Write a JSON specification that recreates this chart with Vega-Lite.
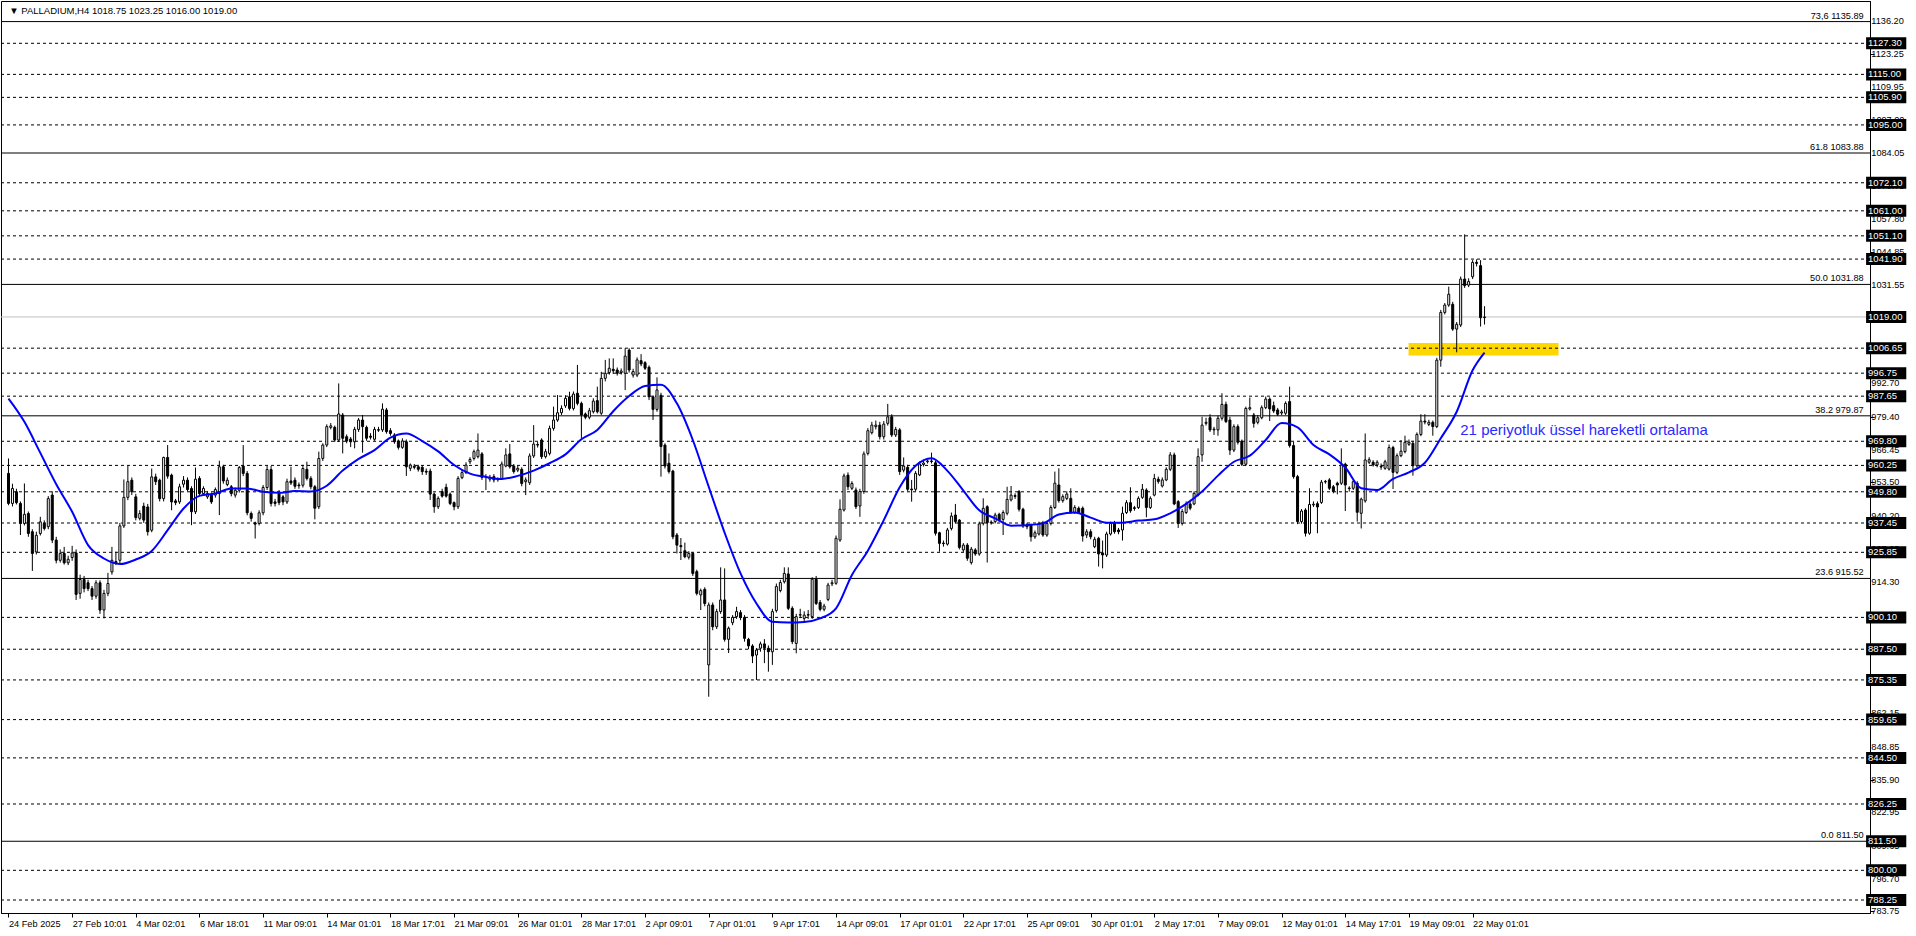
{
  "$schema": "https://vega.github.io/schema/vega-lite/v6.json",
  "width": 1869,
  "height": 912,
  "autosize": {"type": "none"},
  "padding": {"left": 1, "top": 1, "right": 46, "bottom": 23},
  "background": "#ffffff",
  "config": {
    "view": {"stroke": "#000000", "strokeWidth": 1},
    "font": "Liberation Sans",
    "axis": {"labelFont": "Liberation Sans", "labelFontSize": 9.2, "labelColor": "#000000", "domainColor": "#000000", "tickColor": "#000000", "tickSize": 4, "grid": false, "labelOverlap": false, "labelFlush": false}
  },
  "datasets": {
    "candles": [
      {"i":0,"o":957.1,"h":963.0,"l":944.5,"c":945.2},{"i":1,"o":945.2,"h":953,"l":944,"c":951.1},{"i":2,"o":949.8,"h":951,"l":944.8,"c":945.5},{"i":3,"o":945.2,"h":946,"l":932.7,"c":937.3},{"i":4,"o":937.3,"h":953.1,"l":936.5,"c":940.9},{"i":5,"o":941.2,"h":942,"l":932,"c":933.3},{"i":6,"o":934,"h":935,"l":918.5,"c":925.4},{"i":7,"o":926,"h":934,"l":925,"c":932.6},{"i":8,"o":933.3,"h":939.9,"l":932.5,"c":937.9},{"i":9,"o":937.3,"h":938.5,"l":934.5,"c":935.3},
      {"i":10,"o":936,"h":948.1,"l":935,"c":947.1},{"i":11,"o":948.5,"h":950,"l":929.5,"c":930.7},{"i":12,"o":930.7,"h":932,"l":921.5,"c":922.7},{"i":13,"o":922.7,"h":927,"l":921.8,"c":925.4},{"i":14,"o":925.4,"h":928,"l":921,"c":921.7},{"i":15,"o":921.7,"h":924.5,"l":920.8,"c":923.1},{"i":16,"o":923.8,"h":928.4,"l":922.5,"c":925.6},{"i":17,"o":925.6,"h":927,"l":907,"c":909.2},{"i":18,"o":909.6,"h":917,"l":907.5,"c":915.1},{"i":19,"o":915.1,"h":916.5,"l":910,"c":911.5},
      {"i":20,"o":913.8,"h":915,"l":910.5,"c":911.5},{"i":21,"o":911.5,"h":912.5,"l":907,"c":908.5},{"i":22,"o":908.5,"h":914.8,"l":907.5,"c":913.8},{"i":23,"o":913.8,"h":914.8,"l":901.5,"c":903},{"i":24,"o":903,"h":911,"l":899.7,"c":909.6},{"i":25,"o":909.6,"h":917.7,"l":908.5,"c":913.5},{"i":26,"o":918.1,"h":928,"l":917,"c":922.7},{"i":27,"o":922.2,"h":926.1,"l":920.8,"c":921.6},{"i":28,"o":922.7,"h":937.5,"l":921.5,"c":936.3},{"i":29,"o":936.3,"h":954.7,"l":935.5,"c":947.6},
      {"i":30,"o":947.6,"h":960,"l":946.5,"c":953.8},{"i":31,"o":954.4,"h":955.5,"l":948.5,"c":949.8},{"i":32,"o":947.8,"h":949,"l":938.5,"c":939.6},{"i":33,"o":939.3,"h":942.5,"l":938.5,"c":941.2},{"i":34,"o":944.1,"h":945.5,"l":937.5,"c":938.6},{"i":35,"o":943.8,"h":945,"l":932.5,"c":934},{"i":36,"o":934.6,"h":959,"l":933.8,"c":955.7},{"i":37,"o":955.7,"h":957,"l":952.5,"c":953.8},{"i":38,"o":954.4,"h":955,"l":946,"c":947.1},{"i":39,"o":947.1,"h":963.7,"l":946,"c":963.4},
      {"i":40,"o":963.4,"h":968.3,"l":955,"c":956},{"i":41,"o":956.4,"h":957,"l":942.5,"c":945.8},{"i":42,"o":946.2,"h":947,"l":944.5,"c":945.5},{"i":43,"o":945.8,"h":953,"l":945,"c":951.8},{"i":44,"o":952.8,"h":956,"l":951.5,"c":954.4},{"i":45,"o":954.4,"h":955.5,"l":950,"c":950.7},{"i":46,"o":951.1,"h":952,"l":936.6,"c":941.9},{"i":47,"o":941.9,"h":959.4,"l":941,"c":954.8},{"i":48,"o":955.1,"h":956,"l":948,"c":949.1},{"i":49,"o":949.1,"h":952,"l":948.5,"c":951.1},
      {"i":50,"o":947.8,"h":950,"l":947,"c":949.1},{"i":51,"o":948.5,"h":949.5,"l":945,"c":945.8},{"i":52,"o":948.5,"h":951.5,"l":947.5,"c":950.7},{"i":53,"o":949.1,"h":962.1,"l":940.6,"c":959.7},{"i":54,"o":959.7,"h":960.5,"l":953,"c":954.1},{"i":55,"o":952.7,"h":955.5,"l":952,"c":954.4},{"i":56,"o":951.8,"h":952.5,"l":948,"c":949.1},{"i":57,"o":948.5,"h":951.5,"l":947.5,"c":950.4},{"i":58,"o":950.4,"h":960,"l":949.5,"c":959.4},{"i":59,"o":960,"h":968.3,"l":956,"c":957.1},
      {"i":60,"o":957.1,"h":958,"l":940.5,"c":941.5},{"i":61,"o":941.2,"h":942,"l":938,"c":939.3},{"i":62,"o":937.5,"h":938,"l":931.3,"c":937},{"i":63,"o":937.3,"h":942.5,"l":936.5,"c":941.5},{"i":64,"o":941.5,"h":952.5,"l":940.5,"c":951.5},{"i":65,"o":951.5,"h":960,"l":950.5,"c":958.6},{"i":66,"o":958.6,"h":960,"l":944,"c":945.2},{"i":67,"o":945.8,"h":947,"l":944,"c":945.2},{"i":68,"o":949.4,"h":950.5,"l":944.5,"c":945.5},{"i":69,"o":947.8,"h":948.5,"l":944.5,"c":945.8},
      {"i":70,"o":945.8,"h":955,"l":945,"c":953.8},{"i":71,"o":954.1,"h":959.7,"l":952.5,"c":953.3},{"i":72,"o":954.4,"h":955.5,"l":951,"c":952},{"i":73,"o":952.5,"h":953.5,"l":951,"c":952.2},{"i":74,"o":952.4,"h":960.5,"l":951.5,"c":959},{"i":75,"o":958.7,"h":961.7,"l":954.3,"c":955.1},{"i":76,"o":955.1,"h":956,"l":950.8,"c":951.8},{"i":77,"o":951.8,"h":952.5,"l":938.9,"c":943.3},{"i":78,"o":943.9,"h":965.7,"l":943,"c":963},{"i":79,"o":963,"h":969,"l":962,"c":968.3},
      {"i":80,"o":968.3,"h":976.5,"l":967.5,"c":975.6},{"i":81,"o":975.3,"h":977,"l":974.5,"c":975.9},{"i":82,"o":975.3,"h":976,"l":969.5,"c":970.3},{"i":83,"o":970.3,"h":992.7,"l":969.5,"c":980.6},{"i":84,"o":980.2,"h":981,"l":965,"c":971},{"i":85,"o":971.6,"h":972.5,"l":969,"c":969.9},{"i":86,"o":970.7,"h":971.5,"l":967.5,"c":969.6},{"i":87,"o":969.6,"h":975.5,"l":967,"c":974.5},{"i":88,"o":974.5,"h":979,"l":973.5,"c":978.2},{"i":89,"o":978.2,"h":980.2,"l":965.3,"c":975.6},
      {"i":90,"o":975.3,"h":976,"l":970,"c":971},{"i":91,"o":971.8,"h":973,"l":970.5,"c":971.4},{"i":92,"o":970.6,"h":975.5,"l":970,"c":974.5},{"i":93,"o":974.4,"h":975.5,"l":973.5,"c":974.2},{"i":94,"o":974.3,"h":984.8,"l":973.5,"c":982.5},{"i":95,"o":982.2,"h":983,"l":972.8,"c":973.6},{"i":96,"o":974,"h":975,"l":972,"c":972.9},{"i":97,"o":972.3,"h":973,"l":968.8,"c":969.6},{"i":98,"o":969.9,"h":970.5,"l":966.5,"c":967.4},{"i":99,"o":967.4,"h":971,"l":966.8,"c":969.9},
      {"i":100,"o":969.6,"h":970.5,"l":956.1,"c":959.7},{"i":101,"o":959.1,"h":961,"l":958,"c":960.4},{"i":102,"o":959.9,"h":960.8,"l":958.7,"c":959.5},{"i":103,"o":959.7,"h":960.5,"l":957.8,"c":958.7},{"i":104,"o":959.5,"h":960,"l":956.5,"c":957.8},{"i":105,"o":957.9,"h":959,"l":956.5,"c":957.6},{"i":106,"o":958,"h":959,"l":946.6,"c":948.9},{"i":107,"o":948.9,"h":949.5,"l":941.5,"c":943.9},{"i":108,"o":943.9,"h":948,"l":943,"c":947.2},{"i":109,"o":949.9,"h":951,"l":947.5,"c":948.1},
      {"i":110,"o":951.6,"h":953,"l":947.5,"c":948.1},{"i":111,"o":948.9,"h":949.5,"l":944.5,"c":945.2},{"i":112,"o":945.5,"h":946,"l":942.5,"c":943.9},{"i":113,"o":943.9,"h":956,"l":943,"c":955.1},{"i":114,"o":955.4,"h":958.5,"l":954.8,"c":957.4},{"i":115,"o":957.4,"h":961.5,"l":956.8,"c":960.4},{"i":116,"o":961.7,"h":963.5,"l":960.8,"c":962.6},{"i":117,"o":963,"h":966.5,"l":962.2,"c":965.7},{"i":118,"o":963.7,"h":972.9,"l":963,"c":966.3},{"i":119,"o":964.8,"h":965.5,"l":954.5,"c":955.5},
      {"i":120,"o":955.8,"h":956.8,"l":950.5,"c":955.6},{"i":121,"o":954.8,"h":956.5,"l":953.8,"c":955.5},{"i":122,"o":955.8,"h":956.8,"l":953.5,"c":954.5},{"i":123,"o":954.6,"h":955.5,"l":953.8,"c":954.8},{"i":124,"o":955.1,"h":961.8,"l":954.5,"c":960.8},{"i":125,"o":960,"h":967,"l":959.5,"c":964.4},{"i":126,"o":964.8,"h":968.7,"l":959,"c":959.7},{"i":127,"o":960,"h":960.8,"l":957,"c":957.8},{"i":128,"o":958.4,"h":960,"l":957.6,"c":959.1},{"i":129,"o":958.7,"h":959.5,"l":952,"c":953.1},
      {"i":130,"o":953.8,"h":955.5,"l":948.5,"c":954.5},{"i":131,"o":953.4,"h":965,"l":952.5,"c":964},{"i":132,"o":964,"h":976.2,"l":963.2,"c":968.7},{"i":133,"o":968.5,"h":969.5,"l":967.3,"c":968.3},{"i":134,"o":970.3,"h":971,"l":962.8,"c":963.7},{"i":135,"o":963.7,"h":966.8,"l":963,"c":965.7},{"i":136,"o":965,"h":976,"l":964.2,"c":974.9},{"i":137,"o":974.9,"h":983.5,"l":974,"c":978.2},{"i":138,"o":978.2,"h":988.1,"l":977.5,"c":981.1},{"i":139,"o":981.1,"h":984,"l":980.2,"c":982.8},
      {"i":140,"o":983.8,"h":988,"l":983,"c":986.8},{"i":141,"o":987.4,"h":989.4,"l":982,"c":982.8},{"i":142,"o":982.8,"h":989.5,"l":982,"c":988.5},{"i":143,"o":988.8,"h":1000,"l":984,"c":984.8},{"i":144,"o":984.8,"h":985.5,"l":971,"c":980.2},{"i":145,"o":980.6,"h":981.2,"l":978.5,"c":979.3},{"i":146,"o":979.3,"h":983,"l":978.5,"c":981.9},{"i":147,"o":981.5,"h":986.8,"l":980.8,"c":985.7},{"i":148,"o":985.9,"h":991.4,"l":980.8,"c":981.5},{"i":149,"o":980.9,"h":997.3,"l":980.2,"c":994.7},
      {"i":150,"o":994.7,"h":1002,"l":993.5,"c":996.7},{"i":151,"o":997,"h":1002.6,"l":996.2,"c":998.7},{"i":152,"o":998.3,"h":1002.6,"l":996.5,"c":997.7},{"i":153,"o":998,"h":999,"l":995.8,"c":996.7},{"i":154,"o":997,"h":998.6,"l":996.2,"c":997.6},{"i":155,"o":996.7,"h":1006.6,"l":990.1,"c":1003.5},{"i":156,"o":1005.9,"h":1006.6,"l":997,"c":998},{"i":157,"o":996,"h":998.5,"l":995,"c":997.4},{"i":158,"o":996,"h":1003,"l":995.2,"c":1002},{"i":159,"o":1001.7,"h":1004.3,"l":999.5,"c":1000.4},
      {"i":160,"o":1000.9,"h":1001.5,"l":998,"c":998.7},{"i":161,"o":999.1,"h":999.8,"l":986.1,"c":987.4},{"i":162,"o":987.4,"h":988,"l":978.2,"c":982.4},{"i":163,"o":982.4,"h":995.1,"l":981.5,"c":990.1},{"i":164,"o":988,"h":989,"l":955.8,"c":967.7},{"i":165,"o":968.3,"h":969,"l":959,"c":960},{"i":166,"o":961.1,"h":965,"l":957,"c":957.8},{"i":167,"o":958,"h":958.5,"l":931,"c":932},{"i":168,"o":932.7,"h":933.5,"l":925.4,"c":928.7},{"i":169,"o":928.5,"h":931.5,"l":922.8,"c":928.1},
      {"i":170,"o":926.5,"h":929.7,"l":923.5,"c":924.1},{"i":171,"o":923.9,"h":926.3,"l":923,"c":925.4},{"i":172,"o":925.4,"h":926,"l":916.5,"c":917.5},{"i":173,"o":918.2,"h":919,"l":908.8,"c":909.6},{"i":174,"o":909,"h":911.5,"l":903,"c":910.7},{"i":175,"o":911.2,"h":912,"l":904.5,"c":905.6},{"i":176,"o":881.3,"h":906,"l":868.7,"c":905},{"i":177,"o":905,"h":906,"l":895,"c":896.4},{"i":178,"o":896.4,"h":903.5,"l":895.5,"c":902.4},{"i":179,"o":902.4,"h":919.9,"l":901.5,"c":907},
      {"i":180,"o":907,"h":919.5,"l":890.5,"c":891.4},{"i":181,"o":891.4,"h":896.5,"l":886,"c":895.8},{"i":182,"o":898,"h":901,"l":897,"c":900.1},{"i":183,"o":900.4,"h":904.3,"l":899.5,"c":902.4},{"i":184,"o":902,"h":903,"l":899,"c":900.1},{"i":185,"o":900.1,"h":901,"l":890.5,"c":891.8},{"i":186,"o":891.4,"h":892,"l":887.5,"c":888.8},{"i":187,"o":888.8,"h":889.5,"l":882,"c":884.8},{"i":188,"o":885.2,"h":888,"l":875.3,"c":887.2},{"i":189,"o":887.9,"h":890.5,"l":886.5,"c":889.6},
      {"i":190,"o":889.6,"h":891.5,"l":882,"c":887.9},{"i":191,"o":887.9,"h":889,"l":878.6,"c":886.5},{"i":192,"o":886.5,"h":903.5,"l":881.3,"c":902.4},{"i":193,"o":902.8,"h":913.5,"l":902,"c":912.3},{"i":194,"o":910.7,"h":915,"l":910,"c":913.9},{"i":195,"o":914.2,"h":919.9,"l":913.5,"c":917.5},{"i":196,"o":917.3,"h":919.9,"l":903,"c":903.7},{"i":197,"o":903.7,"h":904.5,"l":889.5,"c":890.5},{"i":198,"o":889.8,"h":901.5,"l":885.9,"c":900.4},{"i":199,"o":901,"h":903.5,"l":899.8,"c":901.2},
      {"i":200,"o":899.7,"h":902.5,"l":898.5,"c":901},{"i":201,"o":901.2,"h":903,"l":899.5,"c":901},{"i":202,"o":900.4,"h":916,"l":899.5,"c":915.2},{"i":203,"o":915.2,"h":916.5,"l":905,"c":905.6},{"i":204,"o":906,"h":907,"l":902.5,"c":903.3},{"i":205,"o":903.3,"h":905.5,"l":902.5,"c":904.6},{"i":206,"o":907.2,"h":913.8,"l":906.5,"c":912.9},{"i":207,"o":913.4,"h":915,"l":912.5,"c":913.8},{"i":208,"o":913.6,"h":932.5,"l":913,"c":931.4},{"i":209,"o":930.7,"h":946.8,"l":930,"c":942.9},
      {"i":210,"o":942.6,"h":957,"l":942,"c":956.1},{"i":211,"o":956.4,"h":957.5,"l":950.5,"c":951.8},{"i":212,"o":951.2,"h":954,"l":950.5,"c":953.1},{"i":213,"o":950.5,"h":951.5,"l":943,"c":943.9},{"i":214,"o":944.2,"h":951,"l":939.9,"c":949.9},{"i":215,"o":949.9,"h":965.8,"l":949,"c":964.8},{"i":216,"o":965,"h":975,"l":964.2,"c":974},{"i":217,"o":973.2,"h":977.5,"l":972.5,"c":976.2},{"i":218,"o":975.6,"h":978,"l":974.5,"c":976.2},{"i":219,"o":976.2,"h":977.5,"l":970.5,"c":971.6},
      {"i":220,"o":971.6,"h":977.8,"l":970.5,"c":976.6},{"i":221,"o":976.9,"h":984.6,"l":976,"c":979.5},{"i":222,"o":979.5,"h":980.5,"l":971.5,"c":972.3},{"i":223,"o":972.3,"h":975.5,"l":971.5,"c":974.5},{"i":224,"o":974.3,"h":975,"l":956.5,"c":957.8},{"i":225,"o":958.4,"h":963.4,"l":957.5,"c":960},{"i":226,"o":959.5,"h":960.5,"l":950,"c":950.8},{"i":227,"o":950.9,"h":954.5,"l":945.9,"c":950.6},{"i":228,"o":950.8,"h":958,"l":950,"c":957.1},{"i":229,"o":956.5,"h":961.8,"l":956,"c":960.8},
      {"i":230,"o":960.6,"h":962.2,"l":959.8,"c":961.2},{"i":231,"o":961.7,"h":962.4,"l":961,"c":962},{"i":232,"o":962,"h":965.3,"l":961,"c":961.8},{"i":233,"o":961.3,"h":962,"l":932.5,"c":933.4},{"i":234,"o":933.6,"h":934,"l":926.1,"c":929.4},{"i":235,"o":929.5,"h":930.5,"l":928.1,"c":929.3},{"i":236,"o":929.1,"h":935.5,"l":928.5,"c":934.7},{"i":237,"o":935.3,"h":941.6,"l":934.5,"c":940.2},{"i":238,"o":940.6,"h":945,"l":937.3,"c":938},{"i":239,"o":938.6,"h":939,"l":927,"c":927.8},
      {"i":240,"o":926.8,"h":929.5,"l":926,"c":928.7},{"i":241,"o":928.7,"h":929.5,"l":922.5,"c":923.5},{"i":242,"o":921.8,"h":928,"l":921,"c":927.1},{"i":243,"o":926.8,"h":927.5,"l":924.5,"c":925.2},{"i":244,"o":925.2,"h":938,"l":924.5,"c":937.1},{"i":245,"o":937.3,"h":947.2,"l":936.5,"c":943.3},{"i":246,"o":943.9,"h":944.5,"l":921.8,"c":937.6},{"i":247,"o":937.8,"h":938.5,"l":936.8,"c":937.5},{"i":248,"o":938,"h":941.5,"l":937.3,"c":940.6},{"i":249,"o":940.9,"h":941.5,"l":938,"c":938.6},
      {"i":250,"o":938.9,"h":942.5,"l":932.7,"c":941.6},{"i":251,"o":941.3,"h":951.8,"l":940.5,"c":946.8},{"i":252,"o":946.6,"h":952.1,"l":946,"c":948.5},{"i":253,"o":948.3,"h":949.2,"l":947,"c":948},{"i":254,"o":949.9,"h":950.5,"l":942,"c":942.9},{"i":255,"o":942.9,"h":943.5,"l":935.5,"c":936.3},{"i":256,"o":936.7,"h":937.5,"l":935,"c":936},{"i":257,"o":936.7,"h":937.2,"l":930.1,"c":932},{"i":258,"o":932,"h":934.5,"l":931.2,"c":933.6},{"i":259,"o":933.1,"h":938,"l":932.5,"c":937.3},
      {"i":260,"o":937.6,"h":938.3,"l":932,"c":932.7},{"i":261,"o":932.7,"h":938,"l":932,"c":937.3},{"i":262,"o":937.3,"h":944.5,"l":936.5,"c":943.6},{"i":263,"o":943.6,"h":957.8,"l":943,"c":953.2},{"i":264,"o":952.5,"h":959.1,"l":945.5,"c":946.3},{"i":265,"o":946.3,"h":948.8,"l":945.5,"c":947.9},{"i":266,"o":947.2,"h":950,"l":946.5,"c":948.9},{"i":267,"o":947.2,"h":951.2,"l":941,"c":941.6},{"i":268,"o":941.6,"h":944.5,"l":941,"c":943.6},{"i":269,"o":943.3,"h":944,"l":941,"c":941.6},
      {"i":270,"o":943.3,"h":944,"l":930.1,"c":932.3},{"i":271,"o":932.7,"h":935,"l":931.5,"c":934},{"i":272,"o":934,"h":935,"l":931,"c":932},{"i":273,"o":928.1,"h":932,"l":927.5,"c":931},{"i":274,"o":931.4,"h":932,"l":920.2,"c":925.2},{"i":275,"o":925.6,"h":930.5,"l":919.5,"c":924.8},{"i":276,"o":924.8,"h":934,"l":924,"c":933.1},{"i":277,"o":933.1,"h":938,"l":932.5,"c":937.3},{"i":278,"o":937.6,"h":938.3,"l":933.2,"c":934},{"i":279,"o":934.7,"h":935.5,"l":933,"c":934},
      {"i":280,"o":934.7,"h":943.9,"l":930.5,"c":941.3},{"i":281,"o":941.6,"h":946.5,"l":941,"c":945.5},{"i":282,"o":945.5,"h":951.6,"l":941.5,"c":942.3},{"i":283,"o":943.5,"h":944.2,"l":942.3,"c":943.2},{"i":284,"o":943.6,"h":948,"l":943,"c":947.2},{"i":285,"o":947.6,"h":952.9,"l":947,"c":950.8},{"i":286,"o":950.5,"h":951.2,"l":939.7,"c":943.6},{"i":287,"o":943.6,"h":948,"l":943,"c":947.2},{"i":288,"o":948.5,"h":956.9,"l":948,"c":955.1},{"i":289,"o":954.8,"h":955.8,"l":953,"c":953.9},
      {"i":290,"o":952.1,"h":955.5,"l":951.5,"c":954.5},{"i":291,"o":954.5,"h":959.5,"l":954,"c":958.7},{"i":292,"o":958.7,"h":965.5,"l":958,"c":964.4},{"i":293,"o":964.4,"h":965.3,"l":944.5,"c":945},{"i":294,"o":945.9,"h":946.5,"l":935.5,"c":937.3},{"i":295,"o":937.3,"h":943,"l":936.5,"c":942},{"i":296,"o":941.6,"h":946,"l":941,"c":945},{"i":297,"o":945,"h":946,"l":942.5,"c":943.3},{"i":298,"o":945,"h":950,"l":944.5,"c":949.2},{"i":299,"o":948.5,"h":967,"l":948,"c":963.7},
      {"i":300,"o":964.4,"h":979.5,"l":961.7,"c":976.2},{"i":301,"o":976.9,"h":979.1,"l":976,"c":977.3},{"i":302,"o":979.1,"h":980.5,"l":973.5,"c":974.3},{"i":303,"o":974.3,"h":975.5,"l":972.3,"c":974.6},{"i":304,"o":974.3,"h":980,"l":972,"c":978.9},{"i":305,"o":978.9,"h":988.8,"l":978,"c":984.4},{"i":306,"o":984.4,"h":985.5,"l":977,"c":977.6},{"i":307,"o":978.2,"h":979.5,"l":964.4,"c":966.3},{"i":308,"o":966.3,"h":976.5,"l":965.5,"c":975.6},{"i":309,"o":975.6,"h":976.5,"l":968.5,"c":969.4},
      {"i":310,"o":969.9,"h":970.5,"l":960,"c":960.7},{"i":311,"o":960.7,"h":983.5,"l":960,"c":982.8},{"i":312,"o":982.6,"h":987.1,"l":982,"c":983.1},{"i":313,"o":980.2,"h":981,"l":975.2,"c":976.9},{"i":314,"o":977.3,"h":980.2,"l":976.5,"c":979.1},{"i":315,"o":979.1,"h":984,"l":978.5,"c":983.1},{"i":316,"o":983.1,"h":987.5,"l":982.5,"c":986.5},{"i":317,"o":986.5,"h":987.2,"l":977.8,"c":982.6},{"i":318,"o":983.9,"h":985.5,"l":981,"c":981.8},{"i":319,"o":982.2,"h":983,"l":979.8,"c":980.5},
      {"i":320,"o":981,"h":982.3,"l":980.2,"c":981.4},{"i":321,"o":980.9,"h":985.6,"l":980.2,"c":984.8},{"i":322,"o":985.5,"h":991.4,"l":967.3,"c":968.1},{"i":323,"o":968.1,"h":969.6,"l":955,"c":955.8},{"i":324,"o":955.8,"h":956.5,"l":937,"c":938},{"i":325,"o":938,"h":943,"l":937.2,"c":942.2},{"i":326,"o":942.6,"h":943.3,"l":932.1,"c":933.4},{"i":327,"o":933.4,"h":951.2,"l":932.8,"c":944.8},{"i":328,"o":944.6,"h":946,"l":943.8,"c":944.9},{"i":329,"o":945.1,"h":946,"l":933.4,"c":943.8},
      {"i":330,"o":945.6,"h":954.5,"l":945,"c":953.6},{"i":331,"o":953.7,"h":954.5,"l":953,"c":953.9},{"i":332,"o":954.5,"h":955.2,"l":950.5,"c":951.2},{"i":333,"o":951.8,"h":952.5,"l":949.2,"c":949.9},{"i":334,"o":953.2,"h":953.8,"l":948.8,"c":952.5},{"i":335,"o":953.2,"h":967,"l":952.5,"c":960.4},{"i":336,"o":960.7,"h":961.3,"l":942.2,"c":952.5},{"i":337,"o":951.3,"h":952,"l":949.9,"c":951.1},{"i":338,"o":951.2,"h":954.5,"l":950.5,"c":953.8},{"i":339,"o":953.2,"h":954,"l":938,"c":941.7},
      {"i":340,"o":941.3,"h":947.5,"l":935.3,"c":946.9},{"i":341,"o":946.2,"h":972.9,"l":945.5,"c":962.4},{"i":342,"o":961.5,"h":963.5,"l":960.8,"c":962.5},{"i":343,"o":961.5,"h":962.3,"l":959.8,"c":960.4},{"i":344,"o":960.4,"h":962.3,"l":959.5,"c":961.5},{"i":345,"o":959.9,"h":961,"l":958.5,"c":959.6},{"i":346,"o":959.1,"h":962.5,"l":958.5,"c":961.7},{"i":347,"o":958.8,"h":968.5,"l":958.2,"c":967.3},{"i":348,"o":967.3,"h":968,"l":950.9,"c":957.5},{"i":349,"o":957.5,"h":965,"l":956.8,"c":964.1},
      {"i":350,"o":964.1,"h":970.3,"l":963.5,"c":965.9},{"i":351,"o":965.7,"h":972,"l":965,"c":969.4},{"i":352,"o":968.6,"h":970.5,"l":968,"c":969.4},{"i":353,"o":969,"h":970,"l":956.2,"c":960.1},{"i":354,"o":960.1,"h":973.3,"l":959.5,"c":972.5},{"i":355,"o":972.5,"h":980.5,"l":971.8,"c":977.8},{"i":356,"o":977.8,"h":980.5,"l":976.5,"c":977.4},{"i":357,"o":976.5,"h":978.3,"l":975.8,"c":977.3},{"i":358,"o":977.3,"h":978,"l":972,"c":975.6},{"i":359,"o":975.6,"h":1002.8,"l":975,"c":1001.9},
      {"i":360,"o":1001.9,"h":1021.8,"l":999.3,"c":1020.8},{"i":361,"o":1020.8,"h":1024.5,"l":1020,"c":1023.7},{"i":362,"o":1023.7,"h":1031,"l":1023,"c":1028},{"i":363,"o":1024,"h":1025,"l":1013.5,"c":1014.2},{"i":364,"o":1014.2,"h":1017,"l":1005,"c":1016.1},{"i":365,"o":1015.8,"h":1035,"l":1015,"c":1034},{"i":366,"o":1034,"h":1051.7,"l":1030.5,"c":1031.4},{"i":367,"o":1031.6,"h":1034.3,"l":1030.8,"c":1033},{"i":368,"o":1034.9,"h":1041.5,"l":1034,"c":1040.6},{"i":369,"o":1040.6,"h":1041.8,"l":1039,"c":1040.2},
      {"i":370,"o":1039.3,"h":1041.5,"l":1015.2,"c":1018.7},{"i":371,"o":1018.75,"h":1023.25,"l":1016,"c":1019}
    ],
    "ema": [
      {"i":0,"v":986.7},{"i":4,"v":977.5},{"i":8,"v":965.2},{"i":12,"v":952.8},{"i":16,"v":941.9},{"i":20,"v":928.7},{"i":24,"v":923.4},{"i":28,"v":921.2},{"i":32,"v":923.0},{"i":36,"v":926.4},{"i":40,"v":934.6},{"i":44,"v":943.2},{"i":48,"v":948.2},{"i":52,"v":949.1},{"i":56,"v":951.1},{"i":60,"v":951.1},{"i":64,"v":949.8},{"i":68,"v":949.4},{"i":72,"v":950.1},{"i":76,"v":949.9},{"i":80,"v":952.2},{"i":84,"v":958.2},{"i":88,"v":962.8},{"i":92,"v":966.3},{"i":96,"v":971.2},{"i":100,"v":972.9},{"i":104,"v":969.9},{"i":108,"v":965.8},{"i":112,"v":960.4},{"i":116,"v":957.0},{"i":120,"v":955.7},{"i":124,"v":954.9},{"i":128,"v":956.1},{"i":132,"v":958.2},{"i":136,"v":961.1},{"i":140,"v":964.6},{"i":144,"v":970.6},{"i":148,"v":974.3},{"i":152,"v":981.7},{"i":156,"v":987.7},{"i":160,"v":991.7},{"i":164,"v":992.2},{"i":168,"v":984.8},{"i":172,"v":970.3},{"i":176,"v":951.8},{"i":180,"v":933.6},{"i":184,"v":917.5},{"i":188,"v":905.6},{"i":192,"v":898.4},{"i":196,"v":898.1},{"i":200,"v":898.3},{"i":204,"v":899.7},{"i":208,"v":903.7},{"i":212,"v":916.9},{"i":216,"v":926.5},{"i":220,"v":938.6},{"i":224,"v":951.6},{"i":228,"v":960.1},{"i":232,"v":963.1},{"i":236,"v":958.1},{"i":240,"v":950.3},{"i":244,"v":942.5},{"i":248,"v":939.3},{"i":252,"v":936.4},{"i":256,"v":936.6},{"i":260,"v":937.3},{"i":264,"v":940.8},{"i":268,"v":941.6},{"i":272,"v":939.6},{"i":276,"v":937.6},{"i":280,"v":937.6},{"i":284,"v":938.4},{"i":288,"v":938.9},{"i":292,"v":941.3},{"i":296,"v":945.0},{"i":300,"v":949.9},{"i":304,"v":956.2},{"i":308,"v":961.7},{"i":312,"v":964.1},{"i":316,"v":970.3},{"i":320,"v":977.0},{"i":324,"v":975.3},{"i":328,"v":968.3},{"i":332,"v":964.6},{"i":336,"v":959.4},{"i":340,"v":951.2},{"i":344,"v":950.5},{"i":348,"v":954.9},{"i":352,"v":957.5},{"i":356,"v":961.3},{"i":360,"v":971.0},{"i":364,"v":981.5},{"i":368,"v":997.9},{"i":371,"v":1004.9}
    ],
    "dashed": [
      {"p":1127.3},{"p":1115.0},{"p":1105.9},{"p":1095.0},{"p":1072.1},{"p":1061.0},{"p":1051.1},{"p":1041.9},{"p":1006.65},{"p":996.75},{"p":987.65},{"p":969.8},{"p":960.25},{"p":949.8},{"p":937.45},{"p":925.85},{"p":900.1},{"p":887.5},{"p":875.35},{"p":859.65},{"p":844.5},{"p":826.25},{"p":800.0},{"p":788.25}
    ],
    "fib": [
      {"p":1135.89,"lab":"73,6 1135.89"},{"p":1083.88,"lab":"61.8 1083.88"},{"p":1031.88,"lab":"50.0 1031.88"},{"p":979.87,"lab":"38.2 979.87"},{"p":915.52,"lab":"23.6 915.52"},{"p":811.5,"lab":"0.0 811.50"}
    ],
    "boxes": [
      {"p":1127.3},{"p":1115.0},{"p":1105.9},{"p":1095.0},{"p":1072.1},{"p":1061.0},{"p":1051.1},{"p":1041.9},{"p":1019.0},{"p":1006.65},{"p":996.75},{"p":987.65},{"p":969.8},{"p":960.25},{"p":949.8},{"p":937.45},{"p":925.85},{"p":900.1},{"p":887.5},{"p":875.35},{"p":859.65},{"p":844.5},{"p":826.25},{"p":811.5},{"p":800.0},{"p":788.25}
    ],
    "yticks": [
      {"p":783.75},{"p":796.7},{"p":809.65},{"p":822.95},{"p":835.9},{"p":848.85},{"p":862.15},{"p":914.3},{"p":927.25},{"p":940.2},{"p":953.5},{"p":966.45},{"p":979.4},{"p":992.7},{"p":1005.65},{"p":1031.55},{"p":1044.85},{"p":1057.8},{"p":1070.75},{"p":1084.05},{"p":1097},{"p":1109.95},{"p":1123.25},{"p":1136.2}
    ],
    "zone": [{"a":351.9,"b":389.6,"lo":1003.7,"hi":1008.7}]
  },
  "layer": [
    {
      "data": {"name": "zone"},
      "mark": {"type": "rect", "color": "#FFD700"},
      "encoding": {
        "x": {"field": "a", "type": "quantitative", "scale": {"domain": [-0.625, 466.625], "nice": false, "zero": false}, "axis": {"orient": "bottom", "values": [0,16,32,48,64,80,96,112,128,144,160,176,192,208,224,240,256,272,288,304,320,336,352,368], "labelExpr": "['24 Feb 2025','27 Feb 10:01','4 Mar 02:01','6 Mar 18:01','11 Mar 09:01','14 Mar 01:01','18 Mar 17:01','21 Mar 09:01','26 Mar 01:01','28 Mar 17:01','2 Apr 09:01','7 Apr 01:01','9 Apr 17:01','14 Apr 09:01','17 Apr 01:01','22 Apr 17:01','25 Apr 09:01','30 Apr 01:01','2 May 17:01','7 May 09:01','12 May 01:01','14 May 17:01','19 May 09:01','22 May 01:01'][round(datum.value/16)]", "labelAlign": "left", "labelBaseline": "top", "labelPadding": 2, "labelFlush": false, "labelOverlap": false, "title": null}},
        "x2": {"field": "b"},
        "y": {"field": "lo", "type": "quantitative", "scale": {"domain": [783.11, 1144.04], "nice": false, "zero": false}, "axis": {"orient": "right", "values": [783.75,796.7,809.65,822.95,835.9,848.85,862.15,914.3,927.25,940.2,953.5,966.45,979.4,992.7,1005.65,1031.55,1044.85,1057.8,1070.75,1084.05,1097,1109.95,1123.25,1136.2], "labels": false, "title": null}},
        "y2": {"field": "hi"}
      }
    },
    {
      "data": {"name": "dashed"},
      "mark": {"type": "rule", "color": "#000000", "strokeWidth": 1, "strokeDash": [3, 3]},
      "encoding": {"y": {"field": "p", "type": "quantitative"}}
    },
    {
      "data": {"name": "fib"},
      "mark": {"type": "rule", "color": "#000000", "strokeWidth": 1},
      "encoding": {"y": {"field": "p", "type": "quantitative"}}
    },
    {
      "data": {"values": [{"p": 1019.0}]},
      "mark": {"type": "rule", "color": "#c0c0c0", "strokeWidth": 1},
      "encoding": {"y": {"field": "p", "type": "quantitative"}}
    },
    {
      "data": {"name": "candles"},
      "mark": {"type": "rule", "color": "#000000", "strokeWidth": 1},
      "encoding": {
        "x": {"field": "i", "type": "quantitative"},
        "y": {"field": "l", "type": "quantitative"},
        "y2": {"field": "h"}
      }
    },
    {
      "data": {"name": "candles"},
      "mark": {"type": "bar", "width": 2, "stroke": "#000000", "strokeWidth": 1},
      "encoding": {
        "x": {"field": "i", "type": "quantitative"},
        "y": {"field": "o", "type": "quantitative"},
        "y2": {"field": "c"},
        "color": {"condition": {"test": "datum.c >= datum.o", "value": "#ffffff"}, "value": "#000000"}
      }
    },
    {
      "data": {"name": "ema"},
      "mark": {"type": "line", "color": "#0000ff", "strokeWidth": 2, "interpolate": "monotone"},
      "encoding": {
        "x": {"field": "i", "type": "quantitative"},
        "y": {"field": "v", "type": "quantitative"}
      }
    },
    {
      "data": {"values": [{"i": 364.9, "p": 974.2, "t": "21 periyotluk üssel hareketli ortalama"}]},
      "mark": {"type": "text", "align": "left", "baseline": "middle", "color": "#2a2aff", "font": "Liberation Sans", "fontSize": 15},
      "encoding": {
        "x": {"field": "i", "type": "quantitative"},
        "y": {"field": "p", "type": "quantitative"},
        "text": {"field": "t"}
      }
    },
    {
      "data": {"name": "fib"},
      "mark": {"type": "text", "align": "right", "baseline": "bottom", "dy": -1, "color": "#000000", "font": "Liberation Sans", "fontSize": 9.2},
      "encoding": {
        "x": {"datum": 466.3, "type": "quantitative"},
        "y": {"field": "p", "type": "quantitative"},
        "text": {"field": "lab"}
      }
    },
    {
      "data": {"name": "yticks"},
      "mark": {"type": "text", "align": "left", "baseline": "middle", "color": "#000000", "font": "Liberation Sans", "fontSize": 9.2},
      "encoding": {
        "x": {"datum": 468.2, "type": "quantitative"},
        "y": {"field": "p", "type": "quantitative"},
        "text": {"field": "p", "type": "quantitative", "format": ".2f"}
      }
    },
    {
      "data": {"name": "boxes"},
      "mark": {"type": "rect", "color": "#000000", "yOffset": -6, "y2Offset": 6},
      "encoding": {
        "x": {"datum": 466.9, "type": "quantitative"},
        "x2": {"datum": 477.0},
        "y": {"field": "p", "type": "quantitative"},
        "y2": {"field": "p"}
      }
    },
    {
      "data": {"name": "boxes"},
      "mark": {"type": "text", "align": "left", "baseline": "middle", "color": "#ffffff", "font": "Liberation Sans", "fontSize": 9.5},
      "encoding": {
        "x": {"datum": 467.4, "type": "quantitative"},
        "y": {"field": "p", "type": "quantitative"},
        "text": {"field": "p", "type": "quantitative", "format": ".2f"}
      }
    },
    {
      "data": {"values": [{"i": 0.2, "p": 1139.9, "t": "▼ PALLADIUM,H4  1018.75 1023.25 1016.00 1019.00"}]},
      "mark": {"type": "text", "align": "left", "baseline": "middle", "color": "#000000", "font": "Liberation Sans", "fontSize": 9.5},
      "encoding": {
        "x": {"field": "i", "type": "quantitative"},
        "y": {"field": "p", "type": "quantitative"},
        "text": {"field": "t"}
      }
    }
  ]
}
